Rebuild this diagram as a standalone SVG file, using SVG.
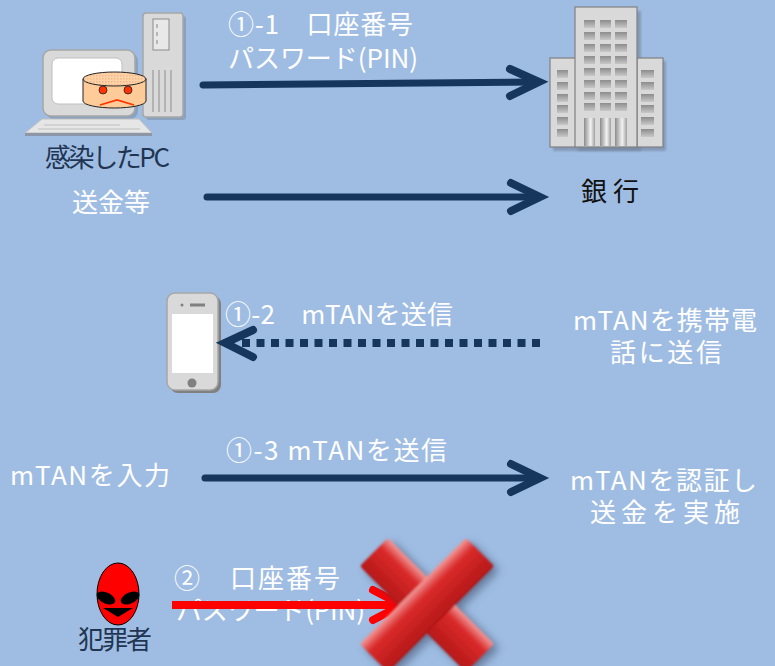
<svg xmlns="http://www.w3.org/2000/svg" width="775" height="666" viewBox="0 0 775 666">
  <defs>
    <style>
      .t { font-family: "Noto Sans CJK JP", "Noto Sans", sans-serif; font-size: 26px; }
      .w { fill: #FFFFFF; }
      .d { fill: #1F3552; }
      .k { fill: #111111; }
      .arrow { fill: none; stroke: #17365D; stroke-width: 7; stroke-linecap: round; stroke-linejoin: round; }
      .head { fill: none; stroke: #17365D; stroke-width: 8; stroke-linecap: round; stroke-linejoin: miter; }
      .dev { fill: #D9D9D9; stroke: #A6A6A6; stroke-width: 1.5; }
      .win { fill: url(#winGrad); }
    </style>
    <linearGradient id="winGrad" x1="0" y1="0" x2="0" y2="1">
      <stop offset="0" stop-color="#8C8C8C"/>
      <stop offset="1" stop-color="#C8C8C8"/>
    </linearGradient>
    <linearGradient id="doorGrad" x1="0" y1="0" x2="1" y2="0">
      <stop offset="0" stop-color="#8C8C8C"/>
      <stop offset="0.6" stop-color="#F2F2F2"/>
      <stop offset="1" stop-color="#A0A0A0"/>
    </linearGradient>
    <linearGradient id="xGrad" x1="0" y1="0" x2="0" y2="1">
      <stop offset="0" stop-color="#F29A9A"/>
      <stop offset="0.3" stop-color="#DA2A2A"/>
      <stop offset="1" stop-color="#B51818"/>
    </linearGradient>
    <pattern id="mesh" width="3" height="3" patternUnits="userSpaceOnUse">
      <rect width="3" height="3" fill="#FFD2A8"/>
      <rect width="1.5" height="1.5" fill="#F2B98A"/>
    </pattern>
    <filter id="soft" x="-30%" y="-30%" width="160%" height="160%">
      <feGaussianBlur stdDeviation="5"/>
    </filter>
    <filter id="softer" x="-10%" y="-10%" width="120%" height="120%">
      <feGaussianBlur stdDeviation="1.2"/>
    </filter>
  </defs>

  <rect width="775" height="666" fill="#9FBDE3"/>

  <!-- infected PC -->
  <g id="pc">
    <!-- tower -->
    <rect x="146" y="16" width="40" height="104" rx="3" fill="#7F8FA6" opacity="0.6"/>
    <rect x="143" y="13" width="40" height="104" rx="3" class="dev"/>
    <rect x="153" y="19" width="16" height="31" fill="#E8E8E8" stroke="#8C8C8C" stroke-width="1"/>
    <g stroke="#A6A6A6" stroke-width="1.5">
      <line x1="157" y1="24" x2="157" y2="28"/>
      <line x1="157" y1="32" x2="157" y2="36"/>
      <line x1="157" y1="40" x2="157" y2="44"/>
      <line x1="153" y1="70" x2="153" y2="112"/>
      <line x1="159" y1="70" x2="159" y2="112"/>
      <line x1="165" y1="70" x2="165" y2="112"/>
      <line x1="171" y1="70" x2="171" y2="112"/>
    </g>
    <!-- monitor -->
    <rect x="46" y="53" width="92" height="66" rx="8" fill="#7F8FA6" opacity="0.6"/>
    <rect x="43" y="50" width="92" height="66" rx="8" class="dev"/>
    <rect x="52" y="58" width="70" height="46" rx="6" fill="#FFFFFF" stroke="#BFBFBF" stroke-width="1"/>
    <!-- keyboard base -->
    <polygon points="25,133 152,133 139,119 42,119" fill="#E6E6E6" stroke="#BFBFBF" stroke-width="1"/>
    <line x1="44" y1="125" x2="120" y2="125" stroke="#BFBFBF" stroke-width="1"/>
    <line x1="38" y1="129" x2="140" y2="129" stroke="#BFBFBF" stroke-width="1"/>
    <rect x="25" y="133" width="127" height="3" fill="#8C96A6"/>
    <!-- sad cylinder face -->
    <path d="M83,79 L83,101 A31.5,7 0 0 0 146,101 L146,79 Z" fill="#FFCC99" stroke="#222" stroke-width="1"/>
    <ellipse cx="114.5" cy="79" rx="31.5" ry="7" fill="url(#mesh)" stroke="#222" stroke-width="1"/>
    <circle cx="103" cy="90" r="4" fill="#FF3300" stroke="#222" stroke-width="0.8"/>
    <circle cx="128" cy="90" r="4" fill="#FF3300" stroke="#222" stroke-width="0.8"/>
    <polyline points="100,105 117,100 134,105" fill="none" stroke="#FF3300" stroke-width="1.8"/>
    <text class="t d" x="45" y="167" font-size="24" textLength="125">感染したPC</text>
  </g>

  <!-- bank -->
  <g id="bank">
    <rect x="553" y="61" width="113" height="90" fill="#6F7F96" opacity="0.55" filter="url(#softer)"/>
    <rect x="578" y="11" width="63" height="140" fill="#6F7F96" opacity="0.55" filter="url(#softer)"/>
    <rect x="550" y="58" width="26" height="89" fill="#D9D9D9" stroke="#808080" stroke-width="1.2"/>
    <rect x="637" y="58" width="26" height="89" fill="#D9D9D9" stroke="#808080" stroke-width="1.2"/>
    <rect x="575" y="7" width="62" height="140" fill="#D9D9D9" stroke="#808080" stroke-width="1.2"/>
    <g class="win">
      <rect x="584" y="20" width="11" height="8"/><rect x="600" y="20" width="11" height="8"/><rect x="615" y="20" width="12" height="8"/>
      <rect x="584" y="32" width="11" height="8"/><rect x="600" y="32" width="11" height="8"/><rect x="615" y="32" width="12" height="8"/>
      <rect x="584" y="44" width="11" height="8"/><rect x="600" y="44" width="11" height="8"/><rect x="615" y="44" width="12" height="8"/>
      <rect x="584" y="56" width="11" height="8"/><rect x="600" y="56" width="11" height="8"/><rect x="615" y="56" width="12" height="8"/>
      <rect x="584" y="68" width="11" height="8"/><rect x="600" y="68" width="11" height="8"/><rect x="615" y="68" width="12" height="8"/>
      <rect x="584" y="80" width="11" height="8"/><rect x="600" y="80" width="11" height="8"/><rect x="615" y="80" width="12" height="8"/>
      <rect x="584" y="92" width="11" height="8"/><rect x="600" y="92" width="11" height="8"/><rect x="615" y="92" width="12" height="8"/>
      <rect x="584" y="103" width="11" height="8"/><rect x="600" y="103" width="11" height="8"/><rect x="615" y="103" width="12" height="8"/>
      <rect x="557" y="70" width="11" height="8"/><rect x="557" y="82" width="11" height="8"/><rect x="557" y="94" width="11" height="8"/>
      <rect x="557" y="105" width="11" height="8"/><rect x="557" y="117" width="11" height="8"/><rect x="557" y="129" width="11" height="8"/>
      <rect x="641" y="70" width="13" height="8"/><rect x="641" y="82" width="13" height="8"/><rect x="641" y="94" width="13" height="8"/>
      <rect x="641" y="105" width="13" height="8"/><rect x="641" y="117" width="13" height="8"/><rect x="641" y="129" width="13" height="8"/>
    </g>
    <rect x="584" y="118" width="11" height="28" fill="url(#doorGrad)"/>
    <rect x="600" y="118" width="11" height="28" fill="url(#doorGrad)"/>
    <rect x="615" y="118" width="12" height="28" fill="url(#doorGrad)"/>
    <text class="t k" x="581" y="201" font-size="28" textLength="58">銀行</text>
  </g>

  <!-- mobile phone -->
  <g id="phone">
    <rect x="170" y="296" width="51" height="97" rx="8" fill="#808080"/>
    <rect x="167" y="293" width="51" height="97" rx="8" fill="#D9D9D9" stroke="#A6A6A6" stroke-width="1.5"/>
    <rect x="172" y="314" width="41" height="59" fill="#FFFFFF"/>
    <circle cx="182" cy="305" r="1.5" fill="#808080"/>
    <rect x="190" y="303.5" width="15" height="3" fill="#808080"/>
    <circle cx="192" cy="383" r="4.5" fill="#808080"/>
  </g>

  <!-- criminal -->
  <g id="criminal">
    <ellipse cx="118" cy="594" rx="21" ry="31" fill="#FF0000" stroke="#000" stroke-width="1"/>
    <ellipse cx="106" cy="598" rx="10" ry="5.5" fill="#000" transform="rotate(25 106 598)"/>
    <ellipse cx="130" cy="598" rx="10" ry="5.5" fill="#000" transform="rotate(-25 130 598)"/>
    <path d="M103,608 L133,608 L118,617 Z" fill="#000"/>
    <text class="t d" x="78" y="649" font-size="24" textLength="74">犯罪者</text>
  </g>

  <!-- labels -->
  <g id="labels">
    <text class="t w" x="228" y="34" textLength="185">①-1　口座番号</text>
    <text class="t w" x="228" y="68" textLength="190">パスワード(PIN)</text>
    <text class="t w" x="72" y="212" textLength="78">送金等</text>
    <text class="t w" x="225" y="324" textLength="228">①-2　mTANを送信</text>
    <text class="t w" x="573" y="330" textLength="184">mTANを携帯電</text>
    <text class="t w" x="610" y="362" textLength="112">話に送信</text>
    <text class="t w" x="226" y="460" textLength="221">①-3 mTANを送信</text>
    <text class="t w" x="10" y="485" textLength="160">mTANを入力</text>
    <text class="t w" x="570" y="490" textLength="187">mTANを認証し</text>
    <text class="t w" x="590" y="522" textLength="150">送金を実施</text>
    <text class="t w" x="174" y="588" textLength="166">②　口座番号</text>
    <text class="t w" x="176" y="620" textLength="189">パスワード(PIN)</text>
  </g>

  <!-- connectors -->
  <g id="connectors">
    <line class="arrow" x1="203" y1="85" x2="536" y2="82"/>
    <polyline class="head" points="510,69 539,82 510,96"/>
    <line class="arrow" x1="207" y1="197" x2="536" y2="197"/>
    <polyline class="head" points="511,183 540,197 511,211"/>
    <line class="arrow" x1="205" y1="478" x2="536" y2="478"/>
    <polyline class="head" points="511,464 540,478 511,492"/>
    <line x1="540" y1="343" x2="236" y2="343" stroke="#17365D" stroke-width="8" stroke-dasharray="8,6.5"/>
    <polyline class="head" points="253,330 225,343 253,357"/>
    <line x1="172" y1="605" x2="398" y2="605" stroke="#FF0000" stroke-width="8"/>
    <polyline points="373,590 402,605 373,620" fill="none" stroke="#FF0000" stroke-width="8" stroke-linecap="round"/>
  </g>

  <!-- red cross -->
  <g id="cross">
    <g filter="url(#soft)" opacity="0.6" fill="#3A4A66">
      <rect x="357" y="589" width="150" height="40" rx="3" transform="rotate(45 432 609)"/>
      <rect x="357" y="589" width="150" height="40" rx="3" transform="rotate(-45 432 609)"/>
    </g>
    <g filter="url(#softer)">
      <rect x="352" y="585" width="150" height="40" rx="3" fill="url(#xGrad)" transform="rotate(45 427 605)"/>
      <rect x="352" y="585" width="150" height="40" rx="3" fill="url(#xGrad)" transform="rotate(-45 427 605)"/>
    </g>
  </g>
</svg>
